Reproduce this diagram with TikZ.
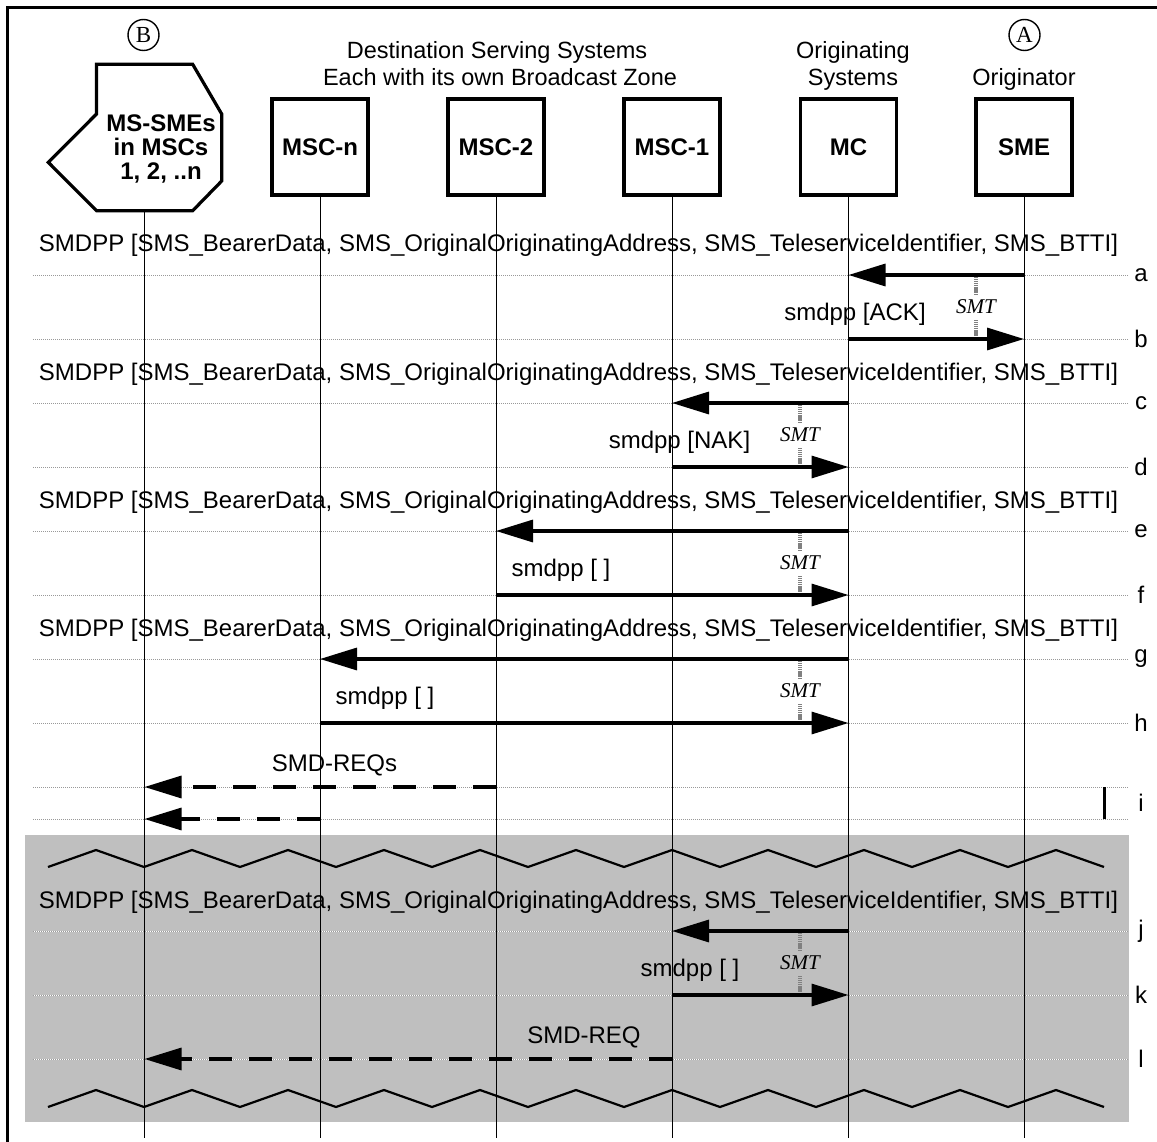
\documentclass[tikz,border=0pt]{standalone}
\usepackage{fontspec}
\setsansfont{Liberation Sans}
\newfontfamily\smtfont{Liberation Serif}
\usetikzlibrary{arrows.meta}

\begin{document}
\begin{tikzpicture}[
        x=1pt, y=-1pt,
        every node/.style={font=\sffamily\fontsize{24}{28}\selectfont, inner sep=0pt},
        entity/.style={rectangle, draw=black, line width=3.2pt, fill=white, minimum width=96pt, minimum height=96pt, font=\sffamily\bfseries\fontsize{24}{24}\selectfont},
        heading/.style={anchor=base, font=\sffamily\fontsize{23.5}{26}\selectfont},
        refmark/.style={circle, draw=black, line width=1.4pt, minimum size=31pt, font=\smtfont\fontsize{23}{23}\selectfont},
        lifeline/.style={draw=black, line width=1pt},
        rowline/.style={draw=gray!80, line width=0.9pt, dash pattern=on 1pt off 1pt, preaction={draw=white, solid}},
        msg/.style={draw=black, line width=3.3pt, -{Triangle[length=37pt, width=22pt]}},
        req/.style={msg, dash pattern=on 23pt off 17pt},
        msglabel/.style={anchor=base},
        timer/.style={draw=gray, line width=3.4pt, dash pattern=on 1.2pt off 0.7pt},
        timerlabel/.style={anchor=base, font=\smtfont\itshape\fontsize{21}{21}\selectfont},
        zigzag/.style={draw=black, line width=2.2pt}
        ]
        \useasboundingbox (0,0) rectangle (1157,1142);

        % frame and the skipped part
        \draw[line width=3pt] (7.5,1160) -- (7.5,7.5) -- (1170,7.5);
        \fill[gray!50] (25,835) rectangle (1129,1122);
        \draw[zigzag] (48,867) \foreach \k in {0,...,10} { -- ({96+96*\k},850) -- ({144+96*\k},867) };
        \draw[zigzag] (48,1107) \foreach \k in {0,...,10} { -- ({96+96*\k},1090) -- ({144+96*\k},1107) };

        % rows
        \foreach \name/\y in {a/275, b/339, c/403, d/467, e/531, f/595, g/659, h/723, i/787, ii/819, j/931, k/995, l/1059} {
            \coordinate (r\name) at (0,\y);
            \draw[rowline] (33,\y) -- (1128,\y);
        }
        \foreach \name/\y in {a/275, b/339, c/403, d/467, e/531, f/595, g/659, h/723, i/803, j/931, k/995, l/1059}
            \node (lab\name) at (1141,\y) {\name};
        \draw[line width=3pt] (1104.5,787) -- (1104.5,819);
        \coordinate (bottom) at (0,1138);

        % headings
        \node[refmark] (refb) at (143.5,35) {B};
        \node[refmark] (refa) at (1024.5,35) {A};
        \node[heading] (dest1) at (497,59) {Destination Serving Systems};
        \node[heading] (dest2) at (500,86) {Each with its own Broadcast Zone};
        \node[heading] (orig1) at (853,59) {Originating};
        \node[heading] (orig2) at (853,86) {Systems};
        \node[heading] (origr) at (1024,86) {Originator};

        % entities
        \draw[line width=3.2pt, fill=white] (96.5,64.3) -- (192.7,64.3) -- (221.7,114) -- (221.7,181) -- (192.7,210.7)
            -- (96.5,210.7) -- (48.3,162.3) -- (96.5,114) -- cycle;
        \node[align=center, font=\sffamily\bfseries\fontsize{24}{24.3}\selectfont] (mssme) at (161,149) {MS-SMEs\\in MSCs\\1, 2, ..n};
        \coordinate (msbot) at (144.5,210.7);
        \node[entity] (mscn) at (320,147) {MSC-n};
        \node[entity] (msc2) at (496,147) {MSC-2};
        \node[entity] (msc1) at (672,147) {MSC-1};
        \node[entity] (mc) at (848.5,147) {MC};
        \node[entity] (sme) at (1024,147) {SME};

        % lifelines
        \draw[lifeline] (msbot) -- (msbot |- bottom);
        \foreach \n in {mscn, msc2, msc1, mc, sme}
            \draw[lifeline] (\n.south) -- (\n |- bottom);

        % messages
        \draw[msg] (sme |- ra) -- (mc |- ra);
        \draw[msg] (mc |- rb) -- (sme |- rb);
        \draw[msg] (mc |- rc) -- (msc1 |- rc);
        \draw[msg] (msc1 |- rd) -- (mc |- rd);
        \draw[msg] (mc |- re) -- (msc2 |- re);
        \draw[msg] (msc2 |- rf) -- (mc |- rf);
        \draw[msg] (mc |- rg) -- (mscn |- rg);
        \draw[msg] (mscn |- rh) -- (mc |- rh);
        \draw[req] (msc2 |- ri) -- (msbot |- ri);
        \draw[req] (mscn |- rii) -- (msbot |- rii);
        \draw[msg] (mc |- rj) -- (msc1 |- rj);
        \draw[msg] (msc1 |- rk) -- (mc |- rk);
        \draw[req] (msc1 |- rl) -- (msbot |- rl);

        % message texts
        \foreach \y in {252, 380, 508, 636, 908}
            \node[msglabel] (smdpp\y) at (578.5,\y) {SMDPP [SMS\_BearerData, SMS\_OriginalOriginatingAddress, SMS\_TeleserviceIdentifier, SMS\_BTTI]};
        \node[msglabel] (ack) at (855,320) {smdpp [ACK]};
        \node[msglabel] (nak) at (679.5,448) {smdpp [NAK]};
        \node[msglabel] (resf) at (561,576) {smdpp [ ]};
        \node[msglabel] (resh) at (385,704) {smdpp [ ]};
        \node[msglabel] (resk) at (690,976) {smdpp [ ]};
        \node[msglabel] (reqs) at (334.5,771) {SMD-REQs};
        \node[msglabel] (req) at (584,1043) {SMD-REQ};

        % SMT timers
        \foreach \tx/\ty in {976/275, 800/403, 800/531, 800/659, 800/931} {
            \draw[timer] (\tx,{\ty+2}) -- (\tx,{\ty+20});
            \node[timerlabel] (smt\ty) at (\tx,{\ty+38}) {SMT};
            \draw[timer] (\tx,{\ty+45}) -- (\tx,{\ty+62});
        }
    \end{tikzpicture}
\end{document}
